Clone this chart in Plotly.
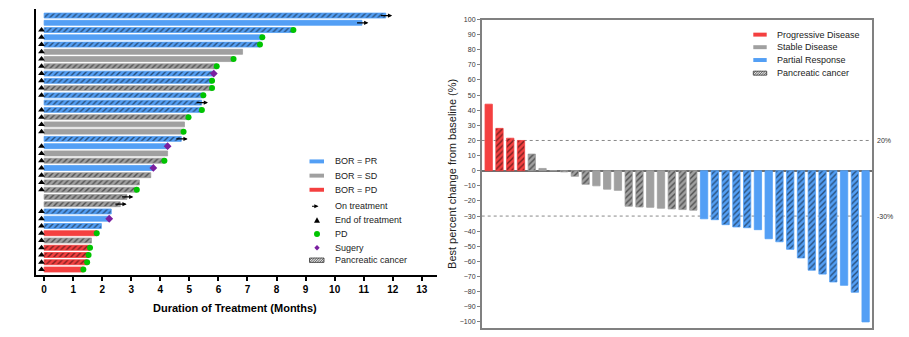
import plotly.graph_objects as go

W, H = 909, 337
FONT = "Liberation Sans, Arial, sans-serif"


def px(x):
    return x / W


def py(y):
    return 1 - y / H


# ---------------- Swimmer plot data (top to bottom) ----------------
swim_duration = [11.76, 10.94, 8.58, 7.51, 7.43, 6.83, 6.52, 5.94, 5.84, 5.78,
                 5.78, 5.48, 5.42, 5.43, 4.97, 4.83, 4.80, 4.72, 4.25, 4.25,
                 4.14, 3.76, 3.67, 3.28, 3.19, 2.85, 2.62, 2.31, 2.24, 1.97,
                 1.81, 1.63, 1.58, 1.53, 1.48, 1.35]
swim_response = ['PR', 'PR', 'PR', 'PR', 'PR', 'SD', 'SD', 'SD', 'PR', 'PR',
                 'SD', 'PR', 'PR', 'PR', 'SD', 'SD', 'SD', 'PR', 'PR', 'SD',
                 'SD', 'PR', 'SD', 'SD', 'SD', 'SD', 'SD', 'PR', 'PR', 'PR',
                 'PD', 'SD', 'PD', 'PD', 'PD', 'PD']
swim_pancreatic = [1, 0, 1, 0, 1, 0, 0, 1, 1, 1,
                   1, 1, 1, 1, 1, 0, 0, 1, 0, 0,
                   1, 0, 1, 1, 1, 1, 1, 1, 0, 1,
                   0, 1, 1, 1, 1, 0]
swim_status = ['on', 'on', 'end', 'end', 'end', 'end', 'end', 'end', 'end', 'end',
               'end', 'end', 'on', 'end', 'end', 'end', 'end', 'on', 'end', 'end',
               'end', 'end', 'end', 'end', 'end', 'on', 'on', 'end', 'end', 'end',
               'end', 'end', 'end', 'end', 'end', 'end']
swim_event = ['', '', 'PD', 'PD', 'PD', '', 'PD', 'PD', 'Surgery', 'PD',
              'PD', 'PD', '', 'PD', 'PD', '', 'PD', '', 'Surgery', '',
              'PD', 'Surgery', '', '', 'PD', '', '', '', 'Surgery', '',
              'PD', '', 'PD', 'PD', 'PD', 'PD']
swim_xticks = list(range(0, 14))

# ---------------- Waterfall data ----------------
wf_values = [44, 28, 21.5, 20, 11, 1.5, 0, -0.8, -3.7, -9,
             -10, -12.2, -13, -23.5, -24, -24.2, -24.8, -25.3, -25.7, -26.1,
             -31.8, -32.4, -35.7, -37.2, -37.7, -39, -45, -47, -52, -57.7,
             -65.8, -68.4, -73.6, -75.8, -80.4, -100]
wf_response = ['PD', 'PD', 'PD', 'PD', 'SD', 'SD', 'SD', 'SD', 'SD', 'SD',
               'SD', 'SD', 'SD', 'SD', 'SD', 'SD', 'SD', 'SD', 'SD', 'SD',
               'PR', 'PR', 'PR', 'PR', 'PR', 'PR', 'PR', 'PR', 'PR', 'PR',
               'PR', 'PR', 'PR', 'PR', 'PR', 'PR']
wf_pancreatic = [0, 1, 1, 1, 1, 0, 0, 1, 1, 1,
                 0, 0, 0, 1, 1, 0, 0, 1, 1, 1,
                 0, 1, 1, 1, 1, 0, 0, 1, 1, 1,
                 1, 1, 1, 0, 1, 0]
wf_thresholds = [20, -30]

COLORS = {'PR': '#539ff5', 'SD': '#a0a0a0', 'PD': '#f44040'}

fig = go.Figure()

# ---------- swimmer bars ----------
n = len(swim_duration)
rows = list(range(1, n + 1))
for resp in ['PR', 'SD', 'PD']:
    idx = [i for i in range(n) if swim_response[i] == resp]
    fig.add_trace(go.Bar(
        x=[swim_duration[i] for i in idx], y=[rows[i] for i in idx],
        orientation='h', width=0.68, xaxis='x', yaxis='y',
        marker=dict(color=COLORS[resp],
                    line=dict(color=COLORS[resp], width=0.8),
                    pattern=dict(shape=['/' if swim_pancreatic[i] else '' for i in idx],
                                 fgcolor='black', bgcolor=COLORS[resp],
                                 size=4, solidity=0.35)),
        showlegend=False, hoverinfo='skip'))

# end of treatment triangles
end_idx = [i for i in range(n) if swim_status[i] == 'end']
fig.add_trace(go.Scatter(
    x=[-0.09] * len(end_idx), y=[rows[i] for i in end_idx], mode='markers',
    xaxis='x', yaxis='y', cliponaxis=False,
    marker=dict(symbol='triangle-up', size=6, color='black'),
    showlegend=False, hoverinfo='skip'))
# PD dots
pd_idx = [i for i in range(n) if swim_event[i] == 'PD']
fig.add_trace(go.Scatter(
    x=[swim_duration[i] for i in pd_idx], y=[rows[i] for i in pd_idx], mode='markers',
    xaxis='x', yaxis='y',
    marker=dict(symbol='circle', size=6, color='#00c400'),
    showlegend=False, hoverinfo='skip'))
# Surgery diamonds
sg_idx = [i for i in range(n) if swim_event[i] == 'Surgery']
fig.add_trace(go.Scatter(
    x=[swim_duration[i] for i in sg_idx], y=[rows[i] for i in sg_idx], mode='markers',
    xaxis='x', yaxis='y',
    marker=dict(symbol='diamond', size=6, color='#7a1fa0'),
    showlegend=False, hoverinfo='skip'))

annotations = []
# on-treatment arrows
for i in range(n):
    if swim_status[i] == 'on':
        annotations.append(dict(
            x=swim_duration[i] + 0.22, y=rows[i], ax=swim_duration[i] - 0.22, ay=rows[i],
            xref='x', yref='y', axref='x', ayref='y', showarrow=True, text='',
            arrowhead=2, arrowsize=0.7, arrowwidth=1.2, arrowcolor='black'))

# ---------- waterfall bars ----------
m = len(wf_values)
pos = list(range(m))
for resp in ['PD', 'SD', 'PR']:
    idx = [i for i in range(m) if wf_response[i] == resp]
    fig.add_trace(go.Bar(
        x=[pos[i] for i in idx], y=[wf_values[i] for i in idx],
        width=0.68, xaxis='x2', yaxis='y2',
        marker=dict(color=COLORS[resp],
                    line=dict(color=COLORS[resp], width=0.8),
                    pattern=dict(shape=['/' if wf_pancreatic[i] else '' for i in idx],
                                 fgcolor='black', bgcolor=COLORS[resp],
                                 size=4, solidity=0.35)),
        showlegend=False, hoverinfo='skip'))

shapes = []
for t in wf_thresholds:
    shapes.append(dict(type='line', xref='x2 domain', yref='y2', x0=0, x1=0.995, y0=t, y1=t,
                       line=dict(color='#888888', width=1, dash='dot'), layer='below'))
    annotations.append(dict(x=1.006, y=t, xref='x2 domain', yref='y2', text=f'{t}%',
                            showarrow=False, xanchor='left', yanchor='middle',
                            font=dict(size=7, color='#333333', family=FONT)))

# ---------- left legend (custom) ----------
LX0, LX1, LXC, LTX = 309.5, 324, 317, 332.5
leg_left = [('BOR = PR', 159.3), ('BOR = SD', 173.7), ('BOR = PD', 188),
            ('On treatment', 204.7), ('End of treatment', 218.7), ('PD', 232.7),
            ('Sugery', 246.7), ('Pancreatic cancer', 259.3)]
for (lab, yy), col in zip(leg_left[:3], [COLORS['PR'], COLORS['SD'], COLORS['PD']]):
    shapes.append(dict(type='rect', xref='paper', yref='paper', x0=px(LX0), x1=px(LX1),
                       y0=py(yy + 2), y1=py(yy - 2), fillcolor=col, line=dict(width=0)))
annotations.append(dict(x=px(318.5), y=py(204.7), ax=-8, ay=0, xref='paper', yref='paper',
                        showarrow=True, text='', arrowhead=2, arrowsize=0.7,
                        arrowwidth=1.2, arrowcolor='black'))
ty = 218.7
shapes.append(dict(type='path', xref='paper', yref='paper',
                   path=f'M {px(LXC-3)},{py(ty+2.6)} L {px(LXC+3)},{py(ty+2.6)} L {px(LXC)},{py(ty-3)} Z',
                   fillcolor='black', line=dict(width=0)))
shapes.append(dict(type='circle', xref='paper', yref='paper', x0=px(LXC - 3), x1=px(LXC + 3),
                   y0=py(232.7 + 3), y1=py(232.7 - 3), fillcolor='#00c400', line=dict(width=0)))
dy = 246.7
shapes.append(dict(type='path', xref='paper', yref='paper',
                   path=f'M {px(LXC-2.7)},{py(dy)} L {px(LXC)},{py(dy-2.7)} L {px(LXC+2.7)},{py(dy)} L {px(LXC)},{py(dy+2.7)} Z',
                   fillcolor='#7a1fa0', line=dict(width=0)))


def hatch_box(x0, x1, yc, h=4.4):
    out = [dict(type='rect', xref='paper', yref='paper', x0=px(x0), x1=px(x1),
                y0=py(yc + h / 2), y1=py(yc - h / 2), fillcolor='#e0e0e0',
                line=dict(color='#333333', width=0.8))]
    step = 2.4
    xx = x0 - h
    while xx < x1:
        a0, b0 = xx, yc + h / 2
        a1, b1 = xx + h, yc - h / 2
        if a0 < x0:
            b0 -= (x0 - a0)
            a0 = x0
        if a1 > x1:
            b1 += (a1 - x1)
            a1 = x1
        if a1 > a0:
            out.append(dict(type='line', xref='paper', yref='paper', x0=px(a0), x1=px(a1),
                            y0=py(b0), y1=py(b1), line=dict(color='#333333', width=0.7)))
        xx += step
    return out


shapes += hatch_box(LX0, LX1, 259.3)
for lab, yy in leg_left:
    annotations.append(dict(x=px(LTX), y=py(yy), xref='paper', yref='paper', text=lab,
                            showarrow=False, xanchor='left', yanchor='middle',
                            font=dict(size=9, color='#222222', family=FONT)))

# ---------- right legend (custom) ----------
RX0, RX1, RTX = 753.3, 766.7, 775
leg_right = [('Progressive Disease', 31, COLORS['PD']), ('Stable Disease', 43.7, COLORS['SD']),
             ('Partial Response', 56.7, COLORS['PR']), ('Pancreatic cancer', 70, None)]
for lab, yy, col in leg_right:
    if col:
        shapes.append(dict(type='rect', xref='paper', yref='paper', x0=px(RX0), x1=px(RX1),
                           y0=py(yy + 2), y1=py(yy - 2), fillcolor=col, line=dict(width=0)))
    else:
        shapes += hatch_box(RX0, RX1, yy, 4)
    annotations.append(dict(x=px(RTX), y=py(yy), xref='paper', yref='paper', text=lab,
                            showarrow=False, xanchor='left', yanchor='middle',
                            font=dict(size=9, color='#222222', family=FONT)))

# axis titles
annotations.append(dict(x=px(235), y=py(308), xref='paper', yref='paper',
                        xanchor='center', yanchor='middle',
                        text='Duration of Treatment (Months)', showarrow=False,
                        font=dict(size=11, color='black', family=FONT, weight='bold')))
annotations.append(dict(x=px(452), y=py(172), xref='paper', yref='paper',
                        xanchor='center', yanchor='middle',
                        text='Best percent change from baseline (%)', showarrow=False,
                        textangle=-90, font=dict(size=11, color='#222222', family=FONT)))

fig.update_layout(
    width=W, height=H, margin=dict(l=0, r=0, t=0, b=0),
    paper_bgcolor='white', plot_bgcolor='white',
    font=dict(family=FONT),
    barmode='overlay',
    xaxis=dict(domain=[px(36), px(436.9)], range=[-0.28, 13.52], anchor='y',
               showline=True, linecolor='black', linewidth=1.5,
               ticks='outside', ticklen=5, tickwidth=1.5, tickcolor='black',
               tickvals=swim_xticks,
               tickfont=dict(size=10, color='black', family=FONT, weight='bold'),
               showgrid=False, zeroline=False, fixedrange=True),
    yaxis=dict(domain=[py(274), py(5)], range=[n + 0.72, 0.09], anchor='x',
               showline=True, linecolor='black', linewidth=1.5,
               showticklabels=False, ticks='', showgrid=False, zeroline=False),
    xaxis2=dict(domain=[px(481.7), px(872.3)], range=[-0.65, m - 1 + 0.62], anchor='y2',
                showline=True, mirror=True, linecolor='#808080', linewidth=1.5,
                showticklabels=False, ticks='', showgrid=False, zeroline=False),
    yaxis2=dict(domain=[py(328.3), py(15.7)], range=[-104.3, 100], anchor='x2',
                showline=True, mirror=True, linecolor='#808080', linewidth=1.5,
                ticks='outside', ticklen=3, tickwidth=1, tickcolor='#808080',
                dtick=10, tick0=0, tickfont=dict(size=7, color='#333333', family=FONT),
                showgrid=False, zeroline=True, zerolinecolor='#707070', zerolinewidth=1.5),
    shapes=shapes, annotations=annotations,
)

fig.write_html("out.html")
